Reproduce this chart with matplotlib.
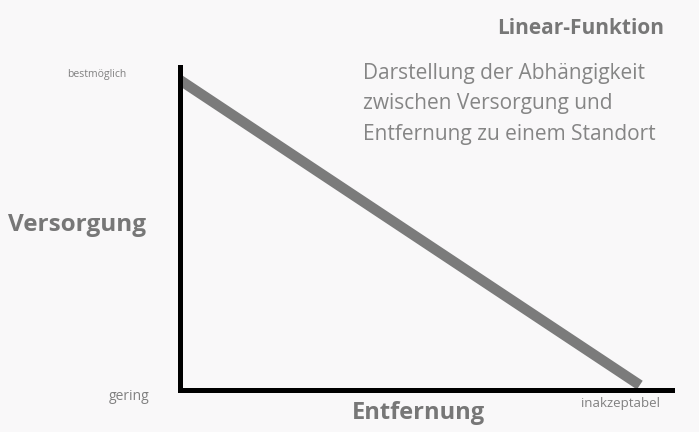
import matplotlib.pyplot as plt

plt.rcParams['font.family'] = ['Open Sans', 'DejaVu Sans']

# Daten
entfernung = [0, 1]
versorgung = [1, 0]
y_labels = ["gering", "bestmöglich"]
x_label_end = "inakzeptabel"

fig = plt.figure(figsize=(6.99, 4.32), dpi=100)
fig.patch.set_facecolor("#f9f8f9")

W, H = 699, 432
ax = fig.add_axes([180 / W, 42 / H, (672 - 180) / W, (390 - 67) / H])
ax.set_facecolor("#f9f8f9")

ax.plot(entfernung, versorgung, color="#7b7b7b", linewidth=7.5, solid_capstyle="butt")
ax.set_xlim(0, 1.07)
ax.set_ylim(-0.016, 1.043)

for s in ["top", "right"]:
    ax.spines[s].set_visible(False)
for s in ["left", "bottom"]:
    ax.spines[s].set_linewidth(3.6)
    ax.spines[s].set_color("black")
ax.set_xticks([])
ax.set_yticks([])

# Beschriftungen
fig.text(97 / W, 1 - 75 / H, y_labels[1], fontsize=7.5, color="#808080", ha="center", va="center")
fig.text(129 / W, 1 - 396 / H, y_labels[0], fontsize=10, color="#808080", ha="center", va="center")
fig.text(620 / W, 1 - 403 / H, x_label_end, fontsize=9.5, color="#808080", ha="center", va="center")

fig.text(77 / W, 1 - 225 / H, "Versorgung", fontsize=17.5, fontweight="bold", color="#777777",
         ha="center", va="center")
fig.text(418 / W, 1 - 413 / H, "Entfernung", fontsize=17, fontweight="bold", color="#777777",
         ha="center", va="center")

fig.text(664 / W, 1 - 29 / H, "Linear-Funktion", fontsize=15, fontweight="bold", color="#777777",
         ha="right", va="center")
fig.text(363 / W, 1 - 104 / H,
         "Darstellung der Abhängigkeit\nzwischen Versorgung und\nEntfernung zu einem Standort",
         fontsize=15, color="#858585", ha="left", va="center", linespacing=1.6)

fig.savefig("out.png", dpi=100, facecolor=fig.get_facecolor())
